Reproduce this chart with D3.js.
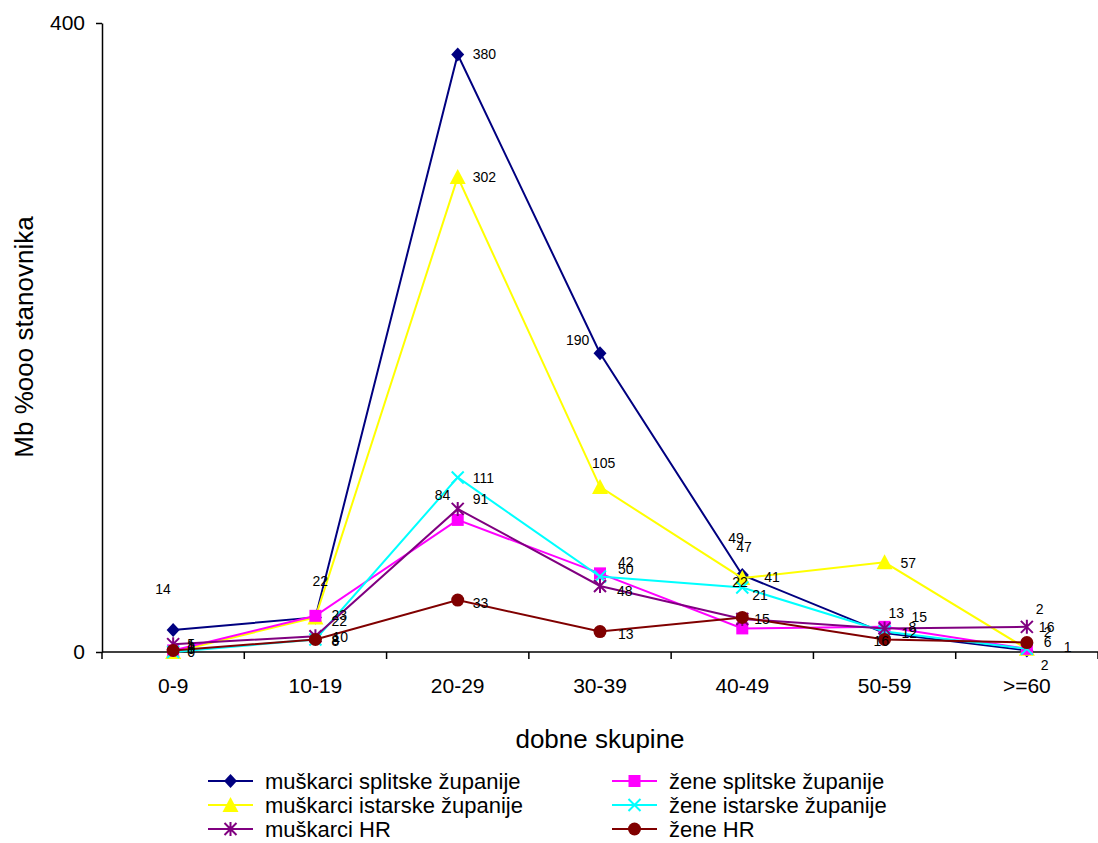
<!DOCTYPE html>
<html><head><meta charset="utf-8">
<script src="https://cdn.jsdelivr.net/npm/d3@7"></script>
<style>
body{margin:0;background:#fff;}
text{font-family:"Liberation Sans",Arial,sans-serif;fill:#000;}
</style></head>
<body><svg id="c" width="1098" height="843"></svg>
<script>
// ---- data ----
const categories = ["0-9","10-19","20-29","30-39","40-49","50-59",">=60"];
const seriesNames = ["muškarci splitske županije","muškarci istarske županije","muškarci HR","žene splitske županije","žene istarske županije","žene HR"];
const muskarciSplit  = [14, 22, 380, 190, 49, 12, 1];
const muskarciIstra  = [0, 22, 302, 105, 47, 57, 2];
const muskarciHR     = [5, 10, 91, 42, 21, 15, 16];
const zeneSplit      = [1, 23, 84, 50, 15, 16, 2];
const zeneIstra      = [0, 8, 111, 48, 41, 13, 2];
const zeneHR         = [1, 8, 33, 13, 22, 8, 6];
const yTicks = [0, 400];
const xTitle = "dobne skupine";
const yTitle = "Mb %ooo stanovnika";

// ---- styling / layout ----
const colors = ["#000080","#FFFF00","#800080","#FF00FF","#00FFFF","#800000"];
const markers = ["diamond","triangle","star","square","x","circle"];
const values = [muskarciSplit, muskarciIstra, muskarciHR, zeneSplit, zeneIstra, zeneHR];
const drawOrder = [0,1,3,4,2,5];
const nudges = [
  [[-18,-41],[-3,-36],[15,0],[-34,-13],[-14,-37],[17,0],[37,-3]],
  [[14,-3],[16,4],[15,0],[-8,-24],[-6,-31],[16,1],[9,-40]],
  [[14,0],[17,1],[15,-10],[18,-24],[10,-24],[27,-11],[12,0]],
  [[14,-5],[16,-1],[-23,-25],[18,-4],[12,-9],[-11,14],[17,-17]],
  [[14,0],[16,2],[15,1],[17,14],[22,-11],[4,-19],[14,16]],
  [[14,-2],[16,1],[15,3],[18,2],[-10,-35],[24,-12],[17,-1]]
];

const svg = d3.select("#c");
const pLeft = 102, pRight = 1098, pTop = 23, pBottom = 652;
const x = d3.scaleBand().domain(categories).range([pLeft, pRight]);
const y = d3.scaleLinear().domain([0, 400]).range([pBottom, pTop]);

const yAxis = d3.axisLeft(y).tickValues(yTicks).tickSize(6).tickSizeOuter(0).tickPadding(11);
const gy = svg.append("g").attr("transform", `translate(${pLeft},0)`).call(yAxis);
gy.select(".domain").attr("stroke","#000").attr("stroke-width",1.5);
gy.selectAll(".tick line").attr("stroke","#000").attr("stroke-width",1.5);
gy.selectAll(".tick text").attr("font-size",21).attr("font-family","Liberation Sans, Arial, sans-serif");

const gx = svg.append("g").attr("transform", `translate(0,${pBottom})`);
gx.append("line").attr("x1",pLeft).attr("x2",pRight).attr("y1",0).attr("y2",0).attr("stroke","#000").attr("stroke-width",1.5);
const bounds = categories.map(c => x(c)).concat([x(categories[categories.length-1]) + x.bandwidth()]);
gx.selectAll("line.tk").data(bounds).enter().append("line").attr("class","tk")
  .attr("x1",d=>d).attr("x2",d=>d).attr("y1",0).attr("y2",7).attr("stroke","#000").attr("stroke-width",1.5);
gx.selectAll("text").data(categories).enter().append("text")
  .attr("x",d=>x(d)+x.bandwidth()/2).attr("y",41).attr("text-anchor","middle")
  .attr("font-size",21).text(d=>d);

svg.append("text").attr("x",600).attr("y",748).attr("text-anchor","middle").attr("font-size",26).text(xTitle);
svg.append("text").attr("transform","translate(33,337) rotate(-90)").attr("text-anchor","middle").attr("font-size",26).text(yTitle);

function drawMarker(g, type, color, cx, cy){
  if(type==="diamond"){
    g.append("path").attr("d",`M${cx},${cy-7}L${cx+6.5},${cy}L${cx},${cy+7}L${cx-6.5},${cy}Z`).attr("fill",color);
  } else if(type==="triangle"){
    g.append("path").attr("d",`M${cx},${cy-8}L${cx+8},${cy+7}L${cx-8},${cy+7}Z`).attr("fill",color);
  } else if(type==="square"){
    g.append("rect").attr("x",cx-6).attr("y",cy-6).attr("width",12).attr("height",12).attr("fill",color);
  } else if(type==="circle"){
    g.append("circle").attr("cx",cx).attr("cy",cy).attr("r",6.5).attr("fill",color);
  } else if(type==="x"){
    g.append("path").attr("d",`M${cx-6},${cy-6}L${cx+6},${cy+6}M${cx-6},${cy+6}L${cx+6},${cy-6}`).attr("stroke",color).attr("stroke-width",2);
  } else if(type==="star"){
    g.append("path").attr("d",`M${cx-6},${cy-6}L${cx+6},${cy+6}M${cx-6},${cy+6}L${cx+6},${cy-6}M${cx},${cy-7}L${cx},${cy+7}`).attr("stroke",color).attr("stroke-width",2);
  }
}

const line = d3.line().x((d,i)=>x(categories[i])+x.bandwidth()/2).y(d=>y(d));
const plot = svg.append("g");
drawOrder.forEach(s => {
  const g = plot.append("g");
  g.append("path").datum(values[s]).attr("d",line).attr("fill","none").attr("stroke",colors[s]).attr("stroke-width",2);
  values[s].forEach((v,i)=>drawMarker(g, markers[s], colors[s], x(categories[i])+x.bandwidth()/2, y(v)));
});
drawOrder.forEach(s => {
  values[s].forEach((v,i)=>{
    const cx = x(categories[i])+x.bandwidth()/2, cy = y(v);
    svg.append("text").attr("x",cx+nudges[s][i][0]).attr("y",cy+nudges[s][i][1])
      .attr("dominant-baseline","central").attr("font-size",14).text(v);
  });
});

const legendPos = [[208,781],[208,805],[208,829],[612,781],[612,805],[612,829]];
seriesNames.forEach((n,s)=>{
  const [lx,ly] = legendPos[s];
  const g = svg.append("g");
  g.append("line").attr("x1",lx).attr("x2",lx+45).attr("y1",ly).attr("y2",ly).attr("stroke",colors[s]).attr("stroke-width",2);
  drawMarker(g, markers[s], colors[s], lx+22.5, ly);
  g.append("text").attr("x",lx+57).attr("y",ly).attr("dominant-baseline","central").attr("font-size",22).text(n);
});
</script></body></html>
